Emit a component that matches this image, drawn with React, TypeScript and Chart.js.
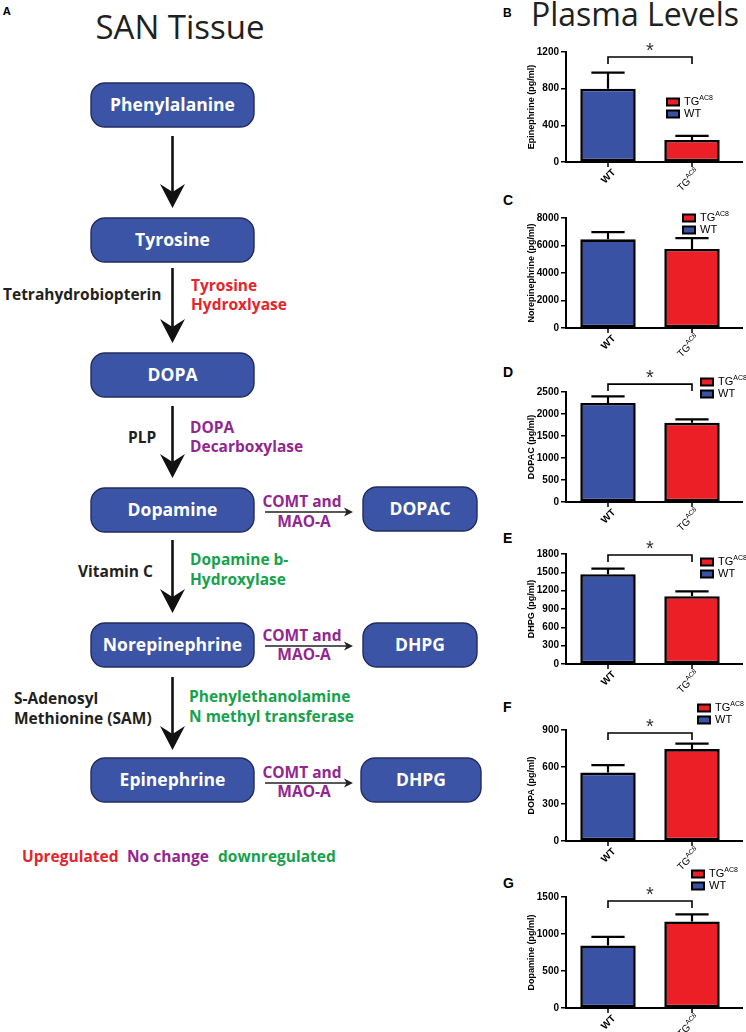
import React, { useEffect, useRef } from "react";
import { Chart, registerables } from "chart.js";
Chart.register(...registerables);

// ---------- DATA ----------
const categories = ["WT", "TG"];
const panelLetters = ["B", "C", "D", "E", "F", "G"];
const yTitles = [
  "Epinephrine (pg/ml)",
  "Norepinephrine (pg/ml)",
  "DOPAC (pg/ml)",
  "DHPG (pg/ml)",
  "DOPA (pg/ml)",
  "Dopamine (pg/ml)",
];
const epinephrineMean = [800, 240];
const epinephrineSem = [175, 45];
const norepinephrineMean = [6450, 5750];
const norepinephrineSem = [520, 780];
const dopacMean = [2250, 1800];
const dopacSem = [150, 80];
const dhpgMean = [1470, 1110];
const dhpgSem = [90, 80];
const dopaMean = [555, 745];
const dopaSem = [60, 45];
const dopamineMean = [845, 1170];
const dopamineSem = [115, 95];
const yMax = [1200, 8000, 2500, 1800, 900, 1500];
const yStep = [400, 2000, 500, 300, 300, 500];
// value level of the significance bracket (null = no bracket)
const sigLevel: (number | null)[] = [1145, null, 2680, 1784, 876, 1446];

const meansList = [epinephrineMean, norepinephrineMean, dopacMean, dhpgMean, dopaMean, dopamineMean];
const semList = [epinephrineSem, norepinephrineSem, dopacSem, dhpgSem, dopaSem, dopamineSem];

// ---------- STYLE / LAYOUT ----------
const WT_BLUE = "#3a52a3";
const TG_RED = "#ec1f26";
const BOX_BLUE = "#3b54a5";
const AX_FONT = "'Liberation Sans', Arial, sans-serif";
const DIA_FONT = "'Open Sans', 'DejaVu Sans', sans-serif";

const panelLayout = [
  { plotTop: 52, plotBottom: 162, legX: 666, legY: 102, letterY: 18 },
  { plotTop: 218, plotBottom: 328, legX: 682, legY: 218, letterY: 205 },
  { plotTop: 392, plotBottom: 502, legX: 700, legY: 382, letterY: 377 },
  { plotTop: 554, plotBottom: 664, legX: 700, legY: 562, letterY: 543 },
  { plotTop: 730, plotBottom: 841, legX: 697, legY: 708, letterY: 712 },
  { plotTop: 897, plotBottom: 1008, legX: 691, legY: 874, letterY: 888 },
];
const PAD = 30;

function BarPanel({ idx }: { idx: number }) {
  const ref = useRef<HTMLCanvasElement | null>(null);
  const L = panelLayout[idx];
  const canvasTop = L.plotTop - PAD;
  const canvasH = L.plotBottom - L.plotTop + 2 * PAD;

  useEffect(() => {
    const means = meansList[idx];
    const sems = semList[idx];
    const decor = {
      id: "decor" + idx,
      afterDatasetsDraw(chart: any) {
        const { ctx, chartArea, scales } = chart;
        const y = scales.y;
        const meta = chart.getDatasetMeta(0);
        const bars = meta.data;
        ctx.save();
        // error bars (upper)
        ctx.strokeStyle = "#000";
        ctx.lineWidth = 2.2;
        bars.forEach((bar: any, j: number) => {
          const top = y.getPixelForValue(means[j] + sems[j]);
          const base = y.getPixelForValue(means[j]);
          const cap = bar.width * 0.6;
          ctx.beginPath();
          ctx.moveTo(bar.x, base);
          ctx.lineTo(bar.x, top);
          ctx.moveTo(bar.x - cap / 2, top);
          ctx.lineTo(bar.x + cap / 2, top);
          ctx.stroke();
        });
        const axisY = chartArea.bottom;
        // x-axis extension and tick marks
        ctx.lineWidth = 2;
        ctx.beginPath();
        ctx.moveTo(chartArea.right - 1, axisY);
        ctx.lineTo(chartArea.right + 9, axisY);
        ctx.stroke();
        ctx.lineWidth = 1.5;
        bars.forEach((bar: any) => {
          ctx.beginPath();
          ctx.moveTo(bar.x, axisY);
          ctx.lineTo(bar.x, axisY + 5);
          ctx.stroke();
        });
        // x labels rotated
        ctx.fillStyle = "#000";
        bars.forEach((bar: any, j: number) => {
          ctx.save();
          ctx.translate(bar.x + 6, axisY + 9);
          ctx.rotate(-Math.PI / 4);
          ctx.textBaseline = "middle";
          ctx.textAlign = "left";
          if (categories[j] === "WT") {
            ctx.font = `bold 10px ${AX_FONT}`;
            const w = ctx.measureText("WT").width;
            ctx.fillText("WT", -w, 0);
          } else {
            ctx.font = `10px ${AX_FONT}`;
            const w1 = ctx.measureText("TG").width;
            ctx.font = `6.5px ${AX_FONT}`;
            const w2 = ctx.measureText("AC8").width;
            ctx.font = `10px ${AX_FONT}`;
            ctx.fillText("TG", -(w1 + w2), 0);
            ctx.font = `6.5px ${AX_FONT}`;
            ctx.fillText("AC8", -w2, -3.5);
          }
          ctx.restore();
        });
        // significance bracket
        const s = sigLevel[idx];
        if (s != null) {
          const by = y.getPixelForValue(s);
          const x0 = bars[0].x;
          const x1 = bars[1].x;
          ctx.lineWidth = 1.6;
          ctx.beginPath();
          ctx.moveTo(x0, by + 7);
          ctx.lineTo(x0, by);
          ctx.lineTo(x1, by);
          ctx.lineTo(x1, by + 7);
          ctx.stroke();
          ctx.font = `20px ${AX_FONT}`;
          ctx.textAlign = "center";
          ctx.textBaseline = "alphabetic";
          const m = ctx.measureText("*");
          const off = (m.actualBoundingBoxAscent - m.actualBoundingBoxDescent) / 2;
          ctx.fillStyle = "#333";
          ctx.fillText("*", (x0 + x1) / 2, by - 10 + off);
        }
        // legend
        const lx = L.legX - 500;
        const items = [
          { y: L.legY - canvasTop, color: TG_RED, label: "TG", sup: "AC8" },
          { y: L.legY + 12 - canvasTop, color: WT_BLUE, label: "WT", sup: "" },
        ];
        items.forEach((it) => {
          ctx.fillStyle = "#000";
          ctx.fillRect(lx, it.y - 4.5, 14, 9);
          ctx.fillStyle = it.color;
          ctx.fillRect(lx + 2, it.y - 2.5, 10, 5);
          ctx.fillStyle = "#000";
          ctx.font = `11px ${AX_FONT}`;
          ctx.textAlign = "left";
          ctx.textBaseline = "middle";
          ctx.fillText(it.label, lx + 18, it.y);
          if (it.sup) {
            const w = ctx.measureText(it.label).width;
            ctx.font = `7px ${AX_FONT}`;
            ctx.fillText(it.sup, lx + 18 + w, it.y - 4);
          }
        });
        ctx.restore();
      },
    };

    const chart = new Chart(ref.current as HTMLCanvasElement, {
      type: "bar",
      data: {
        labels: categories,
        datasets: [
          {
            data: means,
            backgroundColor: [WT_BLUE, TG_RED],
            borderColor: "#000",
            borderWidth: 2.6,
            borderSkipped: false,
            barPercentage: 0.66,
            categoryPercentage: 1,
          },
        ],
      },
      options: {
        responsive: false,
        animation: false,
        layout: { padding: { top: PAD, bottom: PAD, left: 0, right: 12 } },
        plugins: { legend: { display: false }, tooltip: { enabled: false } },
        scales: {
          x: {
            type: "category",
            offset: true,
            grid: { display: false },
            ticks: { display: false },
            border: { display: true, color: "#000", width: 2 },
            afterFit: (s: any) => {
              s.height = 0;
            },
          },
          y: {
            min: 0,
            max: yMax[idx],
            ticks: {
              stepSize: yStep[idx],
              color: "#000",
              padding: 2,
              font: { family: AX_FONT, size: 10, weight: "bold" },
              callback: (v: any) => String(v),
            },
            grid: {
              display: true,
              drawOnChartArea: false,
              drawTicks: true,
              tickLength: 5,
              color: "#000",
              lineWidth: 1.5,
            },
            border: { display: true, color: "#000", width: 2 },
            title: {
              display: true,
              text: yTitles[idx],
              color: "#000",
              font: { family: AX_FONT, size: 9, weight: "bold" },
              padding: { top: 26, bottom: 0 },
            },
            afterFit: (s: any) => {
              s.width = 66;
            },
          },
        },
      } as any,
      plugins: [decor],
    });
    return () => chart.destroy();
  }, [idx]);

  return (
    <canvas
      ref={ref}
      width={246}
      height={canvasH}
      style={{ position: "absolute", left: 500, top: canvasTop, width: 246, height: canvasH }}
    />
  );
}

// ---------- DIAGRAM ----------
const mainBoxes = [
  { label: "Phenylalanine", x: 91, y: 83, w: 163, h: 44 },
  { label: "Tyrosine", x: 91, y: 218, w: 163, h: 44 },
  { label: "DOPA", x: 91, y: 353, w: 163, h: 44 },
  { label: "Dopamine", x: 91, y: 488, w: 163, h: 44 },
  { label: "Norepinephrine", x: 91, y: 623, w: 163, h: 44 },
  { label: "Epinephrine", x: 91, y: 758, w: 163, h: 44 },
  { label: "DOPAC", x: 363, y: 487, w: 114, h: 44 },
  { label: "DHPG", x: 363, y: 623, w: 114, h: 44 },
  { label: "DHPG", x: 361, y: 758, w: 120, h: 44 },
];
const vArrows = [
  { y1: 136, tip: 208 },
  { y1: 268, tip: 343 },
  { y1: 406, tip: 478 },
  { y1: 540, tip: 613 },
  { y1: 677, tip: 750 },
];
const hArrowYs = [512, 646, 783];
const RED = "#e3262b";
const PURPLE = "#92278f";
const GREEN = "#17a24b";
const DARK = "#231f20";
const labels = [
  { t: "Tetrahydrobiopterin", x: 3, y: 300, c: DARK },
  { t: "Tyrosine", x: 191, y: 291, c: RED },
  { t: "Hydroxlyase", x: 191, y: 310, c: RED },
  { t: "PLP", x: 128, y: 443, c: DARK },
  { t: "DOPA", x: 190, y: 433, c: PURPLE },
  { t: "Decarboxylase", x: 190, y: 452, c: PURPLE },
  { t: "Vitamin C", x: 78, y: 577, c: DARK },
  { t: "Dopamine b-", x: 190, y: 565, c: GREEN },
  { t: "Hydroxylase", x: 190, y: 585, c: GREEN },
  { t: "S-Adenosyl", x: 14, y: 704, c: DARK },
  { t: "Methionine (SAM)", x: 14, y: 724, c: DARK },
  { t: "Phenylethanolamine", x: 189, y: 702, c: GREEN },
  { t: "N methyl transferase", x: 189, y: 722, c: GREEN },
  { t: "Upregulated", x: 22, y: 862, c: RED },
  { t: "No change", x: 127, y: 862, c: PURPLE },
  { t: "downregulated", x: 218, y: 862, c: GREEN },
];
const enzymeRows = [
  { y1: 507, y2: 527 },
  { y1: 641, y2: 660 },
  { y1: 778, y2: 797 },
];

function Diagram() {
  return (
    <svg width={746} height={1032} style={{ position: "absolute", left: 0, top: 0 }}>
      <text x={3} y={15} fontFamily={DIA_FONT} fontWeight={700} fontSize={11} fill="#000">A</text>
      <text x={180} y={39} textAnchor="middle" fontFamily={DIA_FONT} fontSize={33} fill={DARK}>SAN Tissue</text>
      <text x={503} y={17} fontFamily={AX_FONT} fontWeight={700} fontSize={12} fill="#000">B</text>
      <text x={635} y={26} textAnchor="middle" fontFamily={DIA_FONT} fontSize={32} fill={DARK}>Plasma Levels</text>
      {panelLetters.slice(1).map((l, i) => (
        <text key={l} x={503} y={panelLayout[i + 1].letterY} fontFamily={AX_FONT} fontWeight={700} fontSize={14} fill="#000">
          {l}
        </text>
      ))}
      {mainBoxes.map((b, i) => (
        <g key={i}>
          <rect x={b.x} y={b.y} width={b.w} height={b.h} rx={14} ry={14} fill={BOX_BLUE} stroke="#232b5e" strokeWidth={1.4} />
          <text
            x={b.x + b.w / 2}
            y={b.y + b.h / 2 + 5.5}
            textAnchor="middle"
            fill="#fff"
            fontFamily={DIA_FONT}
            fontWeight={700}
            fontSize={17.5}
          >
            {b.label}
          </text>
        </g>
      ))}
      {vArrows.map((a, i) => (
        <g key={i}>
          <line x1={172.5} y1={a.y1} x2={172.5} y2={a.tip - 14} stroke="#111" strokeWidth={2.6} />
          <path d={`M172.5 ${a.tip} L160 ${a.tip - 24} L172.5 ${a.tip - 16} L185 ${a.tip - 24} Z`} fill="#111" />
        </g>
      ))}
      {hArrowYs.map((y, i) => (
        <g key={i}>
          <line x1={265} y1={y} x2={348} y2={y} stroke="#222" strokeWidth={1.3} />
          <path d={`M353 ${y} L344 ${y - 4.5} L346.5 ${y} L344 ${y + 4.5} Z`} fill="#222" />
        </g>
      ))}
      {enzymeRows.map((r, i) => (
        <g key={i}>
          <text x={302} y={r.y1} textAnchor="middle" fontFamily={DIA_FONT} fontWeight={700} fontSize={15.5} fill={PURPLE}>
            COMT and
          </text>
          <text x={304} y={r.y2} textAnchor="middle" fontFamily={DIA_FONT} fontWeight={700} fontSize={15.5} fill={PURPLE}>
            MAO-A
          </text>
        </g>
      ))}
      {labels.map((l, i) => (
        <text key={i} x={l.x} y={l.y} fontFamily={DIA_FONT} fontWeight={700} fontSize={15.5} fill={l.c}>
          {l.t}
        </text>
      ))}
    </svg>
  );
}

export default function App() {
  return (
    <div style={{ position: "absolute", left: 0, top: 0, width: 746, height: 1032, background: "#fff", overflow: "hidden" }}>
      <Diagram />
      {panelLayout.map((_, i) => (
        <BarPanel key={i} idx={i} />
      ))}
    </div>
  );
}
